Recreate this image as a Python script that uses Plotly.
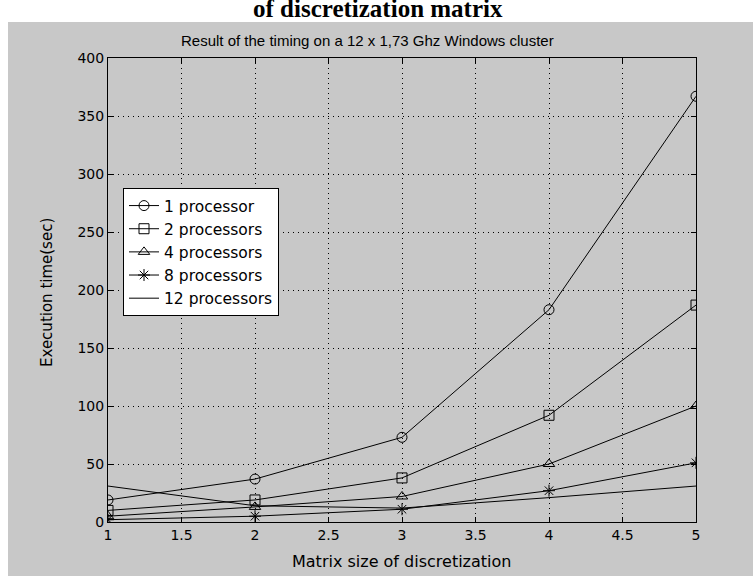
import plotly.graph_objects as go

matrix_size = [1, 2, 3, 4, 5]
series_names = ["1 processor", "2 processors", "4 processors", "8 processors", "12 processors"]
p1 = [19, 37, 73, 183, 367]
p2 = [10, 19, 38, 92, 187]
p4 = [5, 13, 22, 50, 100]
p8 = [2, 5, 11, 27, 51]
p12 = [31, 14, 12, 21, 31]
series_values = [p1, p2, p4, p8, p12]
symbols = ["circle-open", "square-open", "triangle-up-open", "asterisk-open", None]
x_ticks = [1, 1.5, 2, 2.5, 3, 3.5, 4, 4.5, 5]
y_ticks = [0, 50, 100, 150, 200, 250, 300, 350, 400]

W, H = 755, 576
L, R, T, B = 108, 696, 58, 522

def px(x):
    return (x - L) / (R - L)

def py(y):
    return (B - y) / (B - T)

SANS = "DejaVu Sans"
fig = go.Figure()
for name, vals, sym in zip(series_names, series_values, symbols):
    mode = "lines+markers" if sym else "lines"
    fig.add_trace(go.Scatter(
        x=matrix_size, y=vals, name=name, mode=mode,
        line=dict(color="black", width=1),
        marker=dict(symbol=sym or "circle", size=10, color="black",
                    line=dict(color="black", width=1)),
    ))

axis_common = dict(
    showline=True, linecolor="black", linewidth=1, mirror="ticks",
    ticks="inside", ticklen=5, tickcolor="black",
    showgrid=True, gridcolor="black", gridwidth=1, griddash="1px,4px",
    zeroline=False, tickfont=dict(family=SANS, size=14, color="black"),
)
fig.update_xaxes(range=[1, 5], tickvals=x_ticks, ticktext=[f"{v:g}" for v in x_ticks], **axis_common)
fig.update_yaxes(range=[0, 400], tickvals=y_ticks, **axis_common)

fig.add_shape(type="rect", xref="paper", yref="paper",
              x0=px(8), x1=px(753), y0=py(580), y1=py(22),
              fillcolor="#c8c8c8", line=dict(width=0), layer="below")

fig.add_annotation(text="Result of the timing on a 12 x 1,73 Ghz Windows cluster",
                   xref="paper", yref="paper", x=px(367), y=py(40), showarrow=False,
                   font=dict(family="Liberation Sans", size=15, color="black"),
                   xanchor="center", yanchor="middle")
fig.add_annotation(text="<b>of discretization matrix</b>",
                   xref="paper", yref="paper", x=px(378), y=py(24), showarrow=False,
                   font=dict(family="Liberation Serif", size=25, color="black"),
                   xanchor="center", yanchor="bottom")
fig.add_annotation(text="Matrix size of discretization",
                   xref="paper", yref="paper", x=px(401), y=py(561), showarrow=False,
                   font=dict(family=SANS, size=16, color="black"), xanchor="center", yanchor="middle")
fig.add_annotation(text="Execution time(sec)",
                   xref="paper", yref="paper", x=px(47), y=py(293), showarrow=False, textangle=-90,
                   font=dict(family=SANS, size=15, color="black"), xanchor="center", yanchor="middle")

fig.update_layout(
    width=W, height=H,
    margin=dict(l=L, r=W - R, t=T, b=H - B),
    paper_bgcolor="white", plot_bgcolor="white",
    showlegend=True,
    legend=dict(x=px(123), y=py(188), xanchor="left", yanchor="top",
                bgcolor="white", bordercolor="black", borderwidth=1,
                font=dict(family=SANS, size=15.5, color="black")),
)

fig.write_html("out.html", config={"displayModeBar": False},
               post_script="document.body.style.margin='0';")
